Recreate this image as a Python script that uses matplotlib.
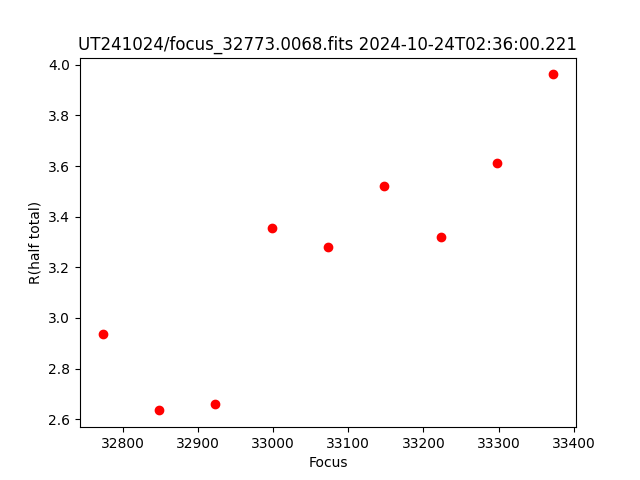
import matplotlib
matplotlib.use("Agg")
import matplotlib.pyplot as plt

focus = [32773, 32848, 32923, 32998, 33073, 33148, 33223, 33298, 33373]
r_half = [2.935, 2.635, 2.662, 3.357, 3.282, 3.523, 3.318, 3.611, 3.962]

fig, ax = plt.subplots(figsize=(6.4, 4.8), dpi=100)
ax.plot(focus, r_half, 'ro')
ax.set_xlabel("Focus")
ax.set_ylabel("R(half total)")
ax.set_title("UT241024/focus_32773.0068.fits 2024-10-24T02:36:00.221")

plt.savefig("out.png", dpi=100)
